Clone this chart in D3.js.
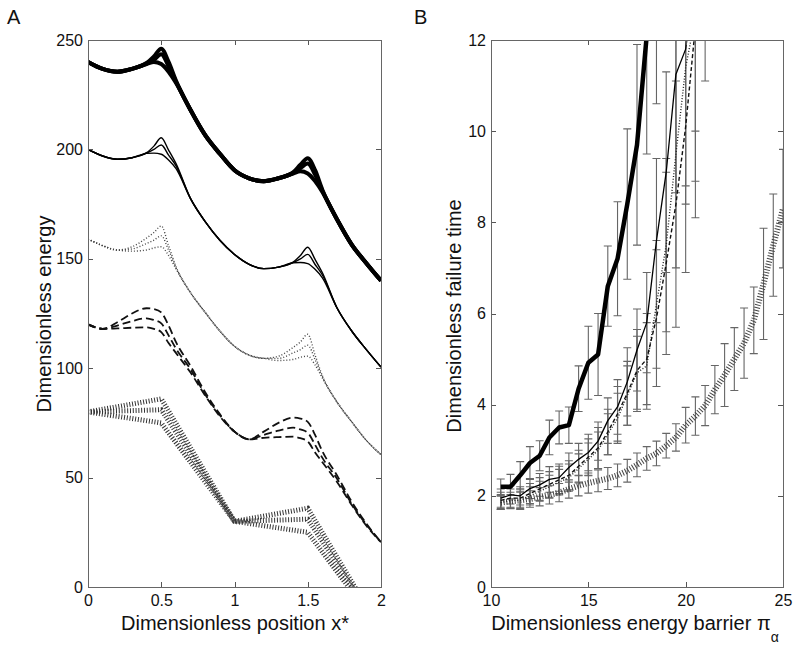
<!DOCTYPE html>
<html>
<head>
    <meta charset="UTF-8">
    <title></title>
    <script src="https://cdn.jsdelivr.net/npm/d3@7"></script>
    <style>
        body{
            padding: 0;
            margin: 0;
            background: #fff;
        }
        svg text{
            font-family: "Liberation Sans", Arial, sans-serif;
            fill: #111;
        }
        .axis path{
            display: none;
        }
        .axis line{
            stroke: #555;
            shape-rendering: crispEdges;
        }
        .axis text{
            font-size: 16px;
        }
        .frame{
            fill: none;
            stroke: #666;
            shape-rendering: crispEdges;
        }
        .lab{
            font-size: 20px;
        }
    </style>
</head>
<body>
<script>

    // ---- panel A : energy landscapes ----
    var xA = [0,0.1,0.2,0.3,0.4,0.45,0.5,0.55,0.6,0.7,0.8,0.9,1,1.1,1.2,1.3,1.4,1.45,1.5,1.55,1.6,1.7,1.8,1.9,2];

    var thickTop = [240,236.8,235.5,236.8,239.5,242.5,246,240,231.5,218,206.5,198,190.5,186.8,185.5,186.8,189.5,193,196,190.5,181.5,168,156.5,148,140];
    var thickMid = [240,236.8,235.5,236.8,239.2,241,243.5,238,231,218,206.5,198,190.5,186.8,185.5,186.8,189.2,191.5,193.5,188.5,181,168,156.5,148,140];
    var thickLow = [240,236.8,235.5,236.8,239,240,239,235.5,230.5,218,206.5,198,190.5,186.8,185.5,186.8,189,190,189,185.5,180.5,168,156.5,148,140];

    var thinTop = [200,197,195.5,196.2,198.5,201.5,205.3,199.7,193.6,177.5,167,158.5,152,147.5,145.5,146.2,148.5,151.5,155.3,149.7,143.6,127.5,117,108.5,100.5];
    var thinMid = [200,197,195.5,196.2,198.3,200,202,197.4,192.6,177.5,167,158.5,152,147.5,145.5,146.2,148.3,150,152,147.4,142.6,127.5,117,108.5,100.5];
    var thinLow = [200,197,195.5,196.2,198.2,198.3,197.8,195.2,191.3,177.5,167,158.5,152,147.5,145.5,146.2,148.2,148.3,147.8,145.2,141.3,127.5,117,108.5,100.5];

    var dotTop = [159,156,154,155.5,159.5,162,165,156,146.5,134.5,125.5,117,110,106,104.5,105.5,109.5,112,115.5,106,96.5,84.5,75.5,67,60.5];
    var dotMid = [159,156,154,154.5,157,158.5,160.5,154,146,134.5,125.5,117,110,106,104.5,104.5,107,108.5,110.5,104,96,84.5,75.5,67,60.5];
    var dotLow = [159,156,154,153.5,154,155,155.5,151.5,145.5,134.5,125.5,117,110,106,104.5,103.5,104,105,105.5,101.5,95.5,84.5,75.5,67,60.5];

    var dashTop = [120,118,121,125,127.4,127,125.5,119.5,112,101,89,79,71,67.5,71,75,77.4,77,75.5,69.5,62,51,39,29,20.5];
    var dashMid = [120,118,119.5,121.5,122.8,122,120.5,115,109,99.5,88,78.5,71,67.5,69.5,71.5,72.8,72,70.5,65,59,49.5,38,28.5,20.5];
    var dashLow = [120,118,118.2,118.5,118.7,118,116.5,111.5,107,98,87.5,78,71,67.5,68.2,68.5,68.7,68,66.5,61.5,57,48,37.5,28,20.5];

    var xSaw = [0,0.5,1,1.5,2];
    var sawTop = [80,86,30,36,-20];
    var sawMid = [80,81,30,31,-20];
    var sawLow = [80,75,30,25,-20];

    var tickAx = [0,0.5,1,1.5,2];
    var tickAy = [0,50,100,150,200,250];

    // ---- panel B : failure time vs barrier ----
    var xB = [10.5,11,11.5,12,12.5,13,13.5,14,14.5,15,15.5,16,16.5,17,17.5,18,18.5,19,19.5,20,20.5,21,21.5,22,22.5,23,23.5,24,24.5,25];

    var thickB   = [2.2,2.2,2.45,2.72,2.88,3.28,3.5,3.55,4.35,4.92,5.1,6.6,7.2,8.4,9.7,12.1,14];
    var thickErr = [0.17,0.27,0.3,0.36,0.33,0.38,0.36,0.4,0.5,0.8,0.9,0.88,1.25,1.65,2.2,2.6,3.4];
    var thinB    = [1.95,2.02,2.0,2.16,2.24,2.36,2.4,2.62,2.8,2.95,3.2,3.65,3.95,4.5,5.2,5.8,7.6,9.1,11.25,11.8,13.5];
    var thinErr  = [0.2,0.2,0.2,0.22,0.25,0.28,0.3,0.32,0.35,0.4,0.42,0.5,0.6,0.75,0.9,1.1,1.8,2.2,2.6,3.0,3.5];
    var dashB    = [1.9,1.95,1.95,2.05,2.15,2.25,2.35,2.45,2.65,2.85,3.05,3.4,3.8,4.25,4.75,5.0,5.9,7.1,8.4,10.1,12.3,14.5];
    var dashErr  = [0.18,0.2,0.2,0.22,0.25,0.28,0.3,0.32,0.35,0.4,0.45,0.5,0.6,0.7,0.9,1.0,1.5,2.0,2.7,3.2,4.2,3.4];
    var dotB     = [1.85,1.9,1.9,2.0,2.1,2.2,2.3,2.4,2.6,2.8,3.0,3.35,3.7,4.2,4.7,4.85,6.2,7.5,9.5,11.4,12.5];
    var dotErr   = [0.15,0.18,0.2,0.2,0.22,0.25,0.28,0.3,0.32,0.36,0.4,0.45,0.55,0.65,0.8,0.95,1.4,1.9,2.5,3.0,3.6];
    var hatchB   = [1.85,1.88,1.9,1.93,1.98,2.02,2.07,2.15,2.22,2.28,2.33,2.38,2.45,2.55,2.68,2.82,2.93,3.1,3.28,3.55,3.75,3.98,4.33,4.65,5.0,5.35,5.85,6.65,7.5,8.3];
    var hatchErr = [0.15,0.15,0.18,0.18,0.2,0.2,0.2,0.2,0.22,0.22,0.24,0.24,0.25,0.25,0.26,0.26,0.27,0.27,0.3,0.39,0.42,0.44,0.53,0.69,0.69,0.77,0.73,1.22,1.12,1.3];

    var tickBx = [10,15,20,25];
    var tickBy = [0,2,4,6,8,10,12];


    var svg = d3.select("body")
        .append("svg")
        .attr("width", 800)
        .attr("height", 650);

    var xa = d3.scaleLinear().domain([0,2]).range([88,381]);
    var ya = d3.scaleLinear().domain([0,250]).range([587,40]);
    var xb = d3.scaleLinear().domain([10,25]).range([491,783]);
    var yb = d3.scaleLinear().domain([0,12]).range([587,40]);

    // clip areas
    var defs = svg.append("defs");
    defs.append("clipPath").attr("id","clipA").append("rect")
        .attr("x",88).attr("y",40).attr("width",293).attr("height",547);
    defs.append("clipPath").attr("id","clipB").append("rect")
        .attr("x",491).attr("y",40).attr("width",292).attr("height",547);

    // axes with inward ticks on all four sides
    function box(x, y, tx, ty, fmtx){
        var x0 = x.range()[0], x1 = x.range()[1];
        var y0 = y.range()[0], y1 = y.range()[1];
        svg.append("g").attr("class","axis")
            .attr("transform","translate(0,"+y0+")")
            .call(d3.axisBottom(x).tickValues(tx).tickSizeInner(-5).tickSizeOuter(0).tickPadding(8).tickFormat(fmtx));
        svg.append("g").attr("class","axis")
            .attr("transform","translate(0,"+y1+")")
            .call(d3.axisTop(x).tickValues(tx).tickSizeInner(-5).tickSizeOuter(0).tickFormat(""));
        svg.append("g").attr("class","axis")
            .attr("transform","translate("+x0+",0)")
            .call(d3.axisLeft(y).tickValues(ty).tickSizeInner(-5).tickSizeOuter(0).tickPadding(5).tickFormat(function(d){ return d; }));
        svg.append("g").attr("class","axis")
            .attr("transform","translate("+x1+",0)")
            .call(d3.axisRight(y).tickValues(ty).tickSizeInner(-5).tickSizeOuter(0).tickFormat(""));
        svg.append("rect").attr("class","frame")
            .attr("x",x0+0.5).attr("y",y1+0.5)
            .attr("width",x1-x0).attr("height",y0-y1);
    }

    // panel A curves
    var gA = svg.append("g").attr("clip-path","url(#clipA)");

    var famA = [
        {ys:[thickTop,thickMid,thickLow], xs:xA, w:4, dash:null, col:"#000", curve:d3.curveMonotoneX},
        {ys:[thinTop,thinMid,thinLow], xs:xA, w:1.4, dash:null, col:"#000", curve:d3.curveMonotoneX},
        {ys:[dotTop,dotMid,dotLow], xs:xA, w:1.4, dash:"1,2", col:"#444", curve:d3.curveMonotoneX},
        {ys:[dashTop,dashMid,dashLow], xs:xA, w:1.8, dash:"8,4", col:"#111", curve:d3.curveMonotoneX},
        {ys:[sawTop,sawMid,sawLow], xs:xSaw, w:5, dash:"1,1.8", col:"#333", curve:d3.curveLinear}
    ];

    famA.forEach(function(f){
        var line = d3.line()
            .x(function(d,i){ return xa(f.xs[i]); })
            .y(function(d){ return ya(d); })
            .curve(f.curve);
        gA.selectAll(null)
            .data(f.ys)
            .enter()
            .append("path")
            .attr("d", line)
            .attr("fill","none")
            .attr("stroke", f.col)
            .attr("stroke-width", f.w)
            .attr("stroke-dasharray", f.dash);
    });

    box(xa, ya, tickAx, tickAy, function(d){ return d; });

    // panel B error bars then lines
    var gB = svg.append("g").attr("clip-path","url(#clipB)");

    var serB = [
        {v:hatchB, e:hatchErr, w:6, dash:"1,1.8", col:"#444"},
        {v:dotB, e:dotErr, w:1.4, dash:"1,1.8", col:"#222"},
        {v:dashB, e:dashErr, w:1.4, dash:"4,2.5", col:"#111"},
        {v:thinB, e:thinErr, w:1.3, dash:null, col:"#000"},
        {v:thickB, e:thickErr, w:4.5, dash:null, col:"#000"}
    ];

    serB.forEach(function(s){
        var eb = gB.append("g")
            .attr("stroke","#666")
            .attr("stroke-width",1.1)
            .attr("fill","none");
        var pts = s.v.map(function(d,i){ return {x:xB[i], v:d, e:s.e[i]}; });
        eb.selectAll(".bar")
            .data(pts)
            .enter()
            .append("path")
            .attr("d", function(d){
                var px = xb(d.x), t = yb(d.v + d.e), b = yb(d.v - d.e);
                return "M"+px+","+t+"V"+b+"M"+(px-4)+","+t+"H"+(px+4)+"M"+(px-4)+","+b+"H"+(px+4);
            });
    });

    serB.forEach(function(s){
        var line = d3.line()
            .x(function(d,i){ return xb(xB[i]); })
            .y(function(d){ return yb(d); });
        gB.append("path")
            .datum(s.v)
            .attr("d", line)
            .attr("fill","none")
            .attr("stroke", s.col)
            .attr("stroke-width", s.w)
            .attr("stroke-dasharray", s.dash)
            .attr("stroke-linejoin","round");
    });

    box(xb, yb, tickBx, tickBy, function(d){ return d; });

    // labels
    svg.append("text").attr("class","lab").attr("x",7).attr("y",24).text("A");
    svg.append("text").attr("class","lab").attr("x",414).attr("y",24).text("B");

    svg.append("text").attr("class","lab")
        .attr("x",235).attr("y",630)
        .attr("text-anchor","middle")
        .text("Dimensionless position x*");

    svg.append("text").attr("class","lab")
        .attr("transform","translate(51,314) rotate(-90)")
        .attr("text-anchor","middle")
        .text("Dimensionless energy");

    svg.append("text").attr("class","lab")
        .attr("transform","translate(461,316) rotate(-90)")
        .attr("text-anchor","middle")
        .text("Dimensionless failure time");

    var xl = svg.append("text").attr("class","lab")
        .attr("x",635).attr("y",630)
        .attr("text-anchor","middle");
    xl.append("tspan").text("Dimensionless energy barrier \u03c0");
    xl.append("tspan").attr("dy",12).attr("font-size",14).text("\u03b1");

</script>
</body>
</html>
